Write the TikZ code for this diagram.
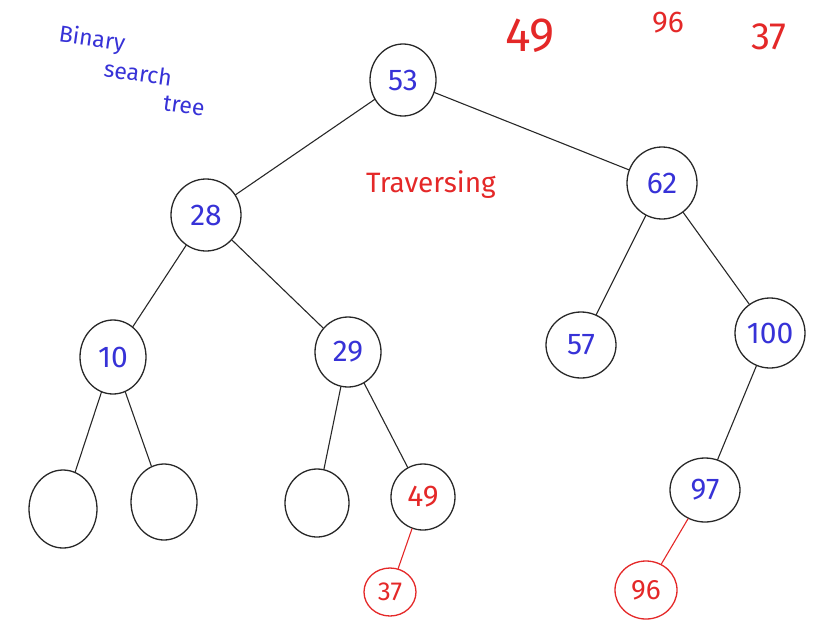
\documentclass[tikz,border=0pt]{standalone}
\usepackage{fontspec}
\setmainfont{Fira Sans}
\usetikzlibrary{shapes.geometric}
\definecolor{penblue}{RGB}{55,50,215}
\definecolor{penred}{RGB}{228,40,40}
\definecolor{penink}{RGB}{40,40,40}
\tikzset{
  key/.style={ellipse, draw=penink, line width=1.3pt, inner sep=0pt,
    text=penblue, font=\fontsize{30}{30}\selectfont},
  newkey/.style={key, text=penred},
  addkey/.style={key, draw=penred, text=penred},
  link/.style={draw=penink, line width=1.1pt},
  newlink/.style={draw=penred, line width=1.1pt},
  title/.style={text=penblue, rotate=-8, inner sep=1pt, font=\fontsize{23}{23}\selectfont}
}
\begin{document}
\begin{tikzpicture}[x=1pt, y=-1pt, line cap=round, line join=round]
	% Page bounds
	\useasboundingbox (0,0) rectangle (813,624);
	
	% Tree keys
	\node[key, minimum width=66pt, minimum height=72pt] (n53) at (403,80) {53};
	\node[key, minimum width=70pt, minimum height=72pt] (n28) at (206,215) {28};
	\node[key, minimum width=70pt, minimum height=72pt] (n62) at (662,183) {62};
	\node[key, minimum width=66pt, minimum height=74pt] (n10) at (113,357) {10};
	\node[key, minimum width=66pt, minimum height=70pt] (n29) at (348,352) {29};
	\node[key, minimum width=70pt, minimum height=66pt] (n57) at (581,345) {57};
	\node[key, minimum width=70pt, minimum height=70pt] (n100) at (770,333) {100};
	\node[key, minimum width=70pt, minimum height=64pt] (n97) at (705,490) {97};
	
	% Empty leaves
	\node[key, minimum width=68pt, minimum height=78pt] (e1) at (63,509) {};
	\node[key, minimum width=66pt, minimum height=76pt] (e2) at (164,502) {};
	\node[key, minimum width=64pt, minimum height=68pt] (e3) at (317,503) {};
	
	% Keys added while traversing
	\node[newkey, minimum width=64pt, minimum height=66pt] (n49) at (423,497) {49};
	\node[addkey, minimum width=52pt, minimum height=48pt,
	  font=\fontsize{26}{26}\selectfont] (n37) at (390,592) {37};
	\node[addkey, minimum width=62pt, minimum height=58pt,
	  font=\fontsize{28}{28}\selectfont] (n96) at (646,590) {96};
	
	% Links
	\draw[link] (n53) -- (n28);
	\draw[link] (n53) -- (n62);
	\draw[link] (n28) -- (n10);
	\draw[link] (n28) -- (n29);
	\draw[link] (n62) -- (n57);
	\draw[link] (n62) -- (n100);
	\draw[link] (n10) -- (e1);
	\draw[link] (n10) -- (e2);
	\draw[link] (n29) -- (e3);
	\draw[link] (n29) -- (n49);
	\draw[link] (n100) -- (n97);
	\draw[newlink] (n49) -- (n37);
	\draw[newlink] (n97) -- (n96);
	
	% Title
	\node[title] (ttl1) at (92,40) {Binary};
	\node[title] (ttl2) at (138,73) {search};
	\node[title] (ttl3) at (184,106) {tree};
	
	% Traversal notes
	\node[text=penred, font=\fontsize{28}{28}\selectfont] (trav) at (431,185) {Traversing};
	\node[text=penred, font=\fontsize{48}{48}\selectfont] (q49) at (530,36) {49};
	\node[text=penred, font=\fontsize{30}{30}\selectfont] (q96) at (668,23) {96};
	\node[text=penred, font=\fontsize{38}{38}\selectfont] (q37) at (769,37) {37};
\end{tikzpicture}
\end{document}
